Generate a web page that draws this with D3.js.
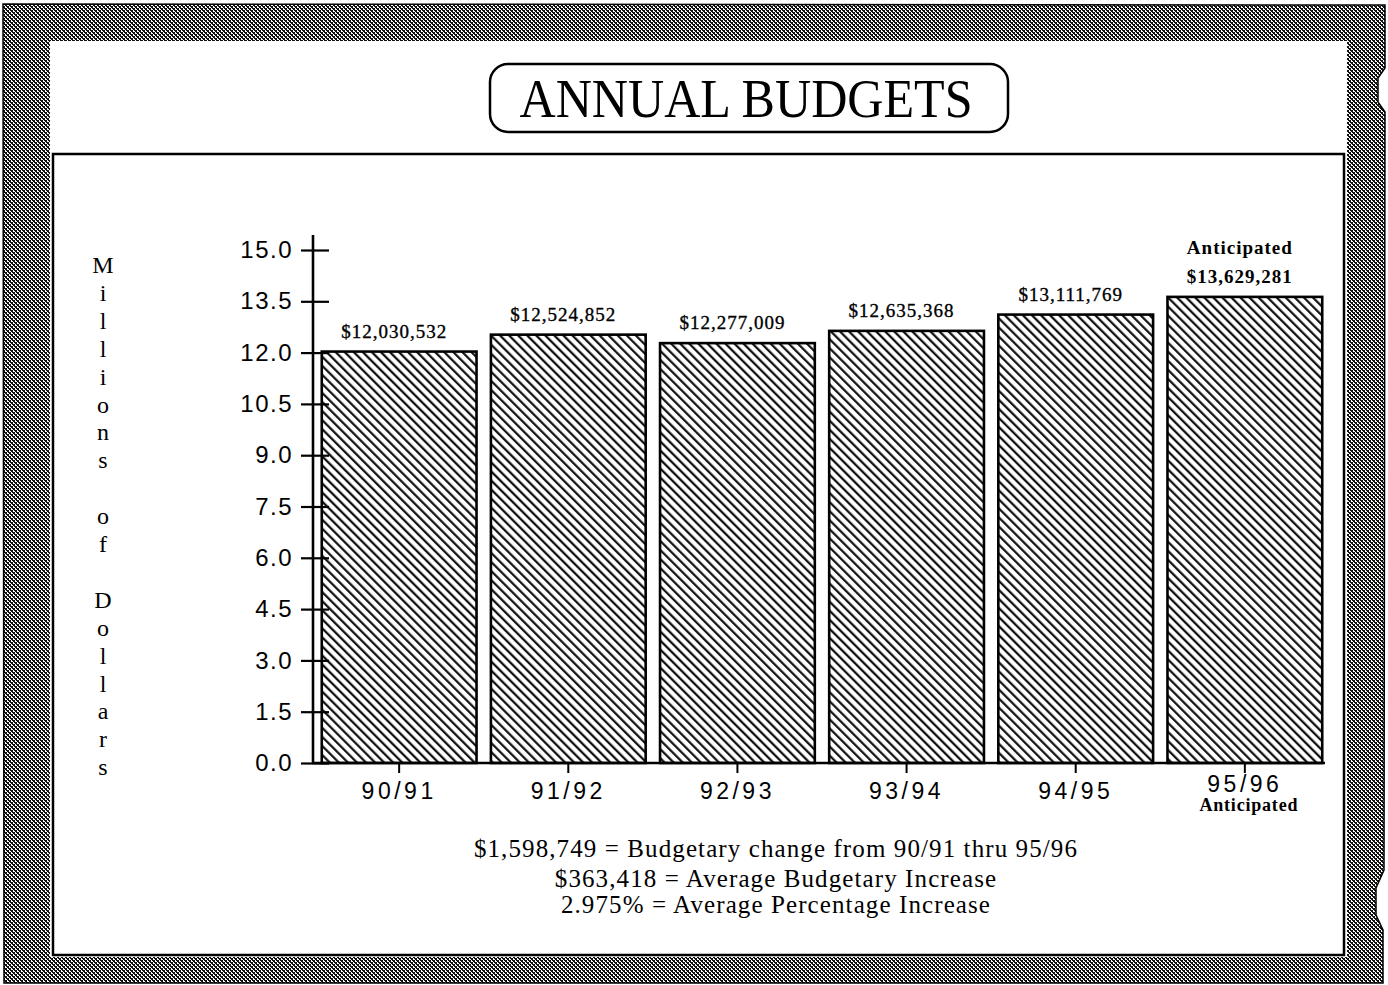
<!DOCTYPE html>
<html>
<head>
<meta charset="utf-8">
<script src="https://cdn.jsdelivr.net/npm/d3@7"></script>
<style>
  html, body { margin: 0; padding: 0; background: #fff; }
  svg { display: block; }
</style>
</head>
<body>
<svg id="chart" width="1388" height="985"></svg>
<script>
// Fiscal years and budget amounts (dollars)
const years = ["90/91", "91/92", "92/93", "93/94", "94/95", "95/96"];
const budgets = [12030532, 12524852, 12277009, 12635368, 13111769, 13629281];
const anticipatedYear = "95/96";

// Y axis ticks (millions of dollars)
const yTicks = [0, 1.5, 3.0, 4.5, 6.0, 7.5, 9.0, 10.5, 12.0, 13.5, 15.0];

const titleText = "ANNUAL BUDGETS";
const axisTitle = "Millions of Dollars";
const summaryLines = [
  "$1,598,749 = Budgetary change from 90/91 thru 95/96",
  "$363,418 = Average Budgetary Increase",
  "2.975% = Average Percentage Increase"
];

const svg = d3.select("#chart");
const defs = svg.append("defs");

// Halftone texture for the outer frame
const frame = defs.append("pattern")
  .attr("id", "frameTex").attr("patternUnits", "userSpaceOnUse")
  .attr("width", 4).attr("height", 4);
frame.append("rect").attr("width", 4).attr("height", 4).attr("fill", "#fff");
for (let py = 0; py < 4; py++) {
  for (let px = 0; px < 4; px++) {
    const m = ((px - py) % 4 + 4) % 4;
    if (m === 0 || m === 1 || (m === 2 && px % 2 === 0)) {
      frame.append("rect").attr("x", px).attr("y", py)
        .attr("width", 1).attr("height", 1).attr("fill", "#111");
    }
  }
}

// Diagonal hatch for the bars
const hatchGap = 6.4;
const hatch = defs.append("pattern")
  .attr("id", "hatch").attr("patternUnits", "userSpaceOnUse")
  .attr("width", hatchGap).attr("height", 10)
  .attr("patternTransform", "rotate(-45)");
hatch.append("rect").attr("width", hatchGap).attr("height", 10).attr("fill", "#fff");
hatch.append("line").attr("x1", 1.2).attr("x2", 1.2).attr("y1", 0).attr("y2", 10)
  .attr("stroke", "#000").attr("stroke-width", 2.1);

// Outer frame with small notches on the right edge
const framePath = [
  "M3,4 L1385,5",
  "L1385,68 L1378,78 L1378,102 L1385,112",
  "L1384,870 L1376,888 L1376,915 L1383,930",
  "L1383,983 L4,983 Z"
].join(" ");
svg.append("path").attr("d", framePath)
  .attr("fill", "url(#frameTex)").attr("stroke", "#000").attr("stroke-width", 1.5);

// White sheet
svg.append("rect").attr("x", 50).attr("y", 41).attr("width", 1297).attr("height", 916)
  .attr("fill", "#fff");

// Chart box border
svg.append("rect").attr("x", 53).attr("y", 154).attr("width", 1291).attr("height", 801)
  .attr("fill", "none").attr("stroke", "#000").attr("stroke-width", 2.5);

// Title in rounded box
svg.append("rect").attr("x", 490).attr("y", 64).attr("width", 518).attr("height", 68)
  .attr("rx", 18).attr("ry", 18)
  .attr("fill", "#fff").attr("stroke", "#000").attr("stroke-width", 2.5);
svg.append("text").attr("x", 746).attr("y", 117)
  .attr("text-anchor", "middle")
  .attr("font-family", "'Liberation Serif', 'DejaVu Serif', serif")
  .attr("font-size", 54)
  .attr("textLength", 453).attr("lengthAdjust", "spacingAndGlyphs")
  .text(titleText);

// Scales
const x = d3.scaleBand().domain(years).range([315, 1329])
  .paddingInner(0.085).paddingOuter(0.04);
const y = d3.scaleLinear().domain([0, 15]).range([763, 250]);
const axisX = 313;

// Bars
svg.append("g").selectAll("rect")
  .data(years.map((yr, i) => ({ yr, v: budgets[i] })))
  .join("rect")
  .attr("x", d => x(d.yr))
  .attr("y", d => y(d.v / 1e6))
  .attr("width", x.bandwidth())
  .attr("height", d => y(0) - y(d.v / 1e6))
  .attr("fill", "url(#hatch)")
  .attr("stroke", "#000").attr("stroke-width", 2.6);

// Value labels
const fmt = d3.format("$,");
const labels = svg.append("g")
  .attr("font-family", "'Liberation Serif', 'DejaVu Serif', serif")
  .attr("font-size", 19).attr("letter-spacing", 1)
  .attr("text-anchor", "middle");
years.forEach((yr, i) => {
  const cx = x(yr) + x.bandwidth() / 2 - 5;
  const top = y(budgets[i] / 1e6);
  const bold = yr === anticipatedYear;
  labels.append("text").attr("x", cx).attr("y", top - 14)
    .attr("font-weight", bold ? "bold" : "normal")
    .attr("stroke", "#000").attr("stroke-width", bold ? 0 : 0.35)
    .text(fmt(budgets[i]));
  if (bold) {
    labels.append("text").attr("x", cx).attr("y", top - 43)
      .attr("font-weight", "bold")
      .text("Anticipated");
  }
});

// Y axis with ticks crossing the axis line
const yAxis = svg.append("g")
  .attr("transform", `translate(${axisX},0)`)
  .call(d3.axisLeft(y).tickValues(yTicks).tickFormat(d3.format(".1f")).tickSize(12));
yAxis.select(".domain").remove();
yAxis.selectAll(".tick line").attr("x1", 16).attr("x2", -12)
  .attr("stroke", "#000").attr("stroke-width", 2.2);
yAxis.selectAll(".tick text")
  .attr("x", -20)
  .attr("font-family", "'Liberation Sans', Arial, sans-serif")
  .attr("font-size", 24).attr("letter-spacing", 1.5)
  .attr("fill", "#000");
svg.append("line").attr("x1", axisX).attr("x2", axisX)
  .attr("y1", 235).attr("y2", y(0))
  .attr("stroke", "#000").attr("stroke-width", 2.6);

// X axis
const xAxis = svg.append("g")
  .attr("transform", `translate(0,${y(0)})`)
  .call(d3.axisBottom(x).tickSize(10).tickPadding(10));
xAxis.select(".domain").remove();
xAxis.selectAll(".tick line").attr("stroke", "#000").attr("stroke-width", 2);
xAxis.selectAll(".tick text")
  .attr("font-family", "'Liberation Sans', Arial, sans-serif")
  .attr("font-size", 23).attr("letter-spacing", 3.5)
  .attr("fill", "#000");
// the anticipated year label sits a little higher to make room below it
xAxis.selectAll(".tick").filter(d => d === anticipatedYear)
  .select("text").attr("y", 13);
svg.append("line").attr("x1", axisX - 1).attr("x2", 1325)
  .attr("y1", y(0)).attr("y2", y(0))
  .attr("stroke", "#000").attr("stroke-width", 2.4);
svg.append("text")
  .attr("x", x(anticipatedYear) + x.bandwidth() / 2 + 4)
  .attr("y", y(0) + 48)
  .attr("text-anchor", "middle")
  .attr("font-family", "'Liberation Serif', 'DejaVu Serif', serif")
  .attr("font-size", 18).attr("font-weight", "bold").attr("letter-spacing", 0.8)
  .text("Anticipated");

// Vertical axis title, one letter per line
const letters = axisTitle.split("");
const ltr = svg.append("g")
  .attr("font-family", "'Liberation Serif', 'DejaVu Serif', serif")
  .attr("font-size", 24).attr("text-anchor", "middle");
letters.forEach((ch, i) => {
  if (ch === " ") return;
  ltr.append("text").attr("x", 103).attr("y", 273 + i * 27.9).text(ch);
});

// Summary lines
const sum = svg.append("g")
  .attr("font-family", "'Liberation Serif', 'DejaVu Serif', serif")
  .attr("font-size", 25).attr("letter-spacing", 1.1).attr("text-anchor", "middle");
const lineYs = [857, 887, 913];
summaryLines.forEach((t, i) => {
  sum.append("text").attr("x", 776).attr("y", lineYs[i]).text(t);
});
</script>
</body>
</html>
